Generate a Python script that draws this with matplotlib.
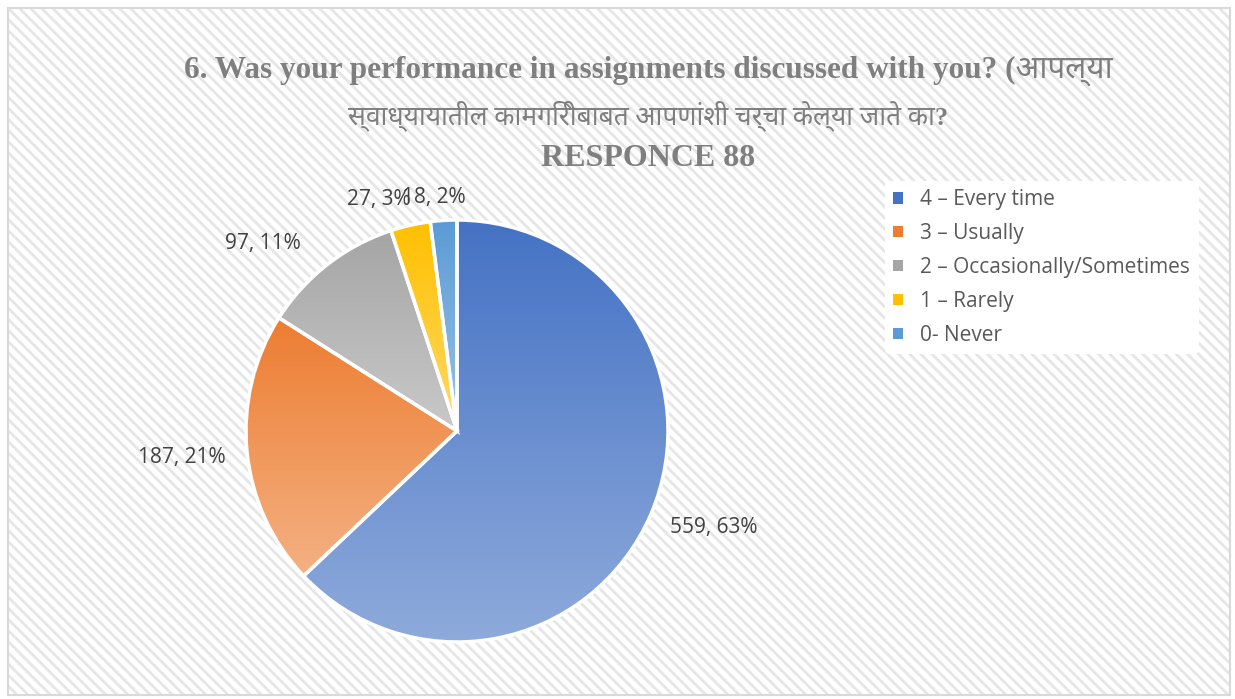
import numpy as np
import matplotlib.pyplot as plt
from matplotlib.colors import to_rgb
from matplotlib.patches import Rectangle

categories = ["4 – Every time", "3 – Usually", "2 – Occasionally/Sometimes",
              "1 – Rarely", "0- Never"]
counts = [559, 187, 97, 27, 18]
percents = [63, 21, 11, 3, 2]
colors = ["#4472C4", "#ED7D31", "#A5A5A5", "#FFC000", "#5B9BD5"]

title_en = "6. Was your performance in assignments discussed with you? (आपल्या"
title_mr = "स्वाध्यायातील कामगिरीबाबत आपणांशी चर्चा केल्या जाते का?"
title_resp = "RESPONCE 88"

# label placement: distance from centre (in radii) and nudge in pixels (right, down)
label_dist = [1.29, 1.31, 1.30, 1.16, 1.12]
label_nudge = [(7, -11), (0, 0), (-26, 29), (-24, 7), (-8, 2)]

plt.rcParams["hatch.linewidth"] = 2.0

fig = plt.figure(figsize=(12.35, 6.99), dpi=100)
fig.patch.set_facecolor("white")

# striped chart area with grey border
bg = Rectangle((8 / 1235, 4 / 699), 1222 / 1235, 687 / 699, transform=fig.transFigure,
               facecolor="white", edgecolor="#E6E6E6", hatch="\\\\\\", linewidth=0,
               zorder=-10)
fig.add_artist(bg)
border = Rectangle((8 / 1235, 4 / 699), 1222 / 1235, 687 / 699, transform=fig.transFigure,
                   facecolor="none", edgecolor="#D9D9D9", linewidth=1.5, zorder=-9)
fig.add_artist(border)

title_fonts = ["Liberation Serif", "Noto Sans", "DejaVu Sans"]
tx = 648 / 1235
fig.text(tx, 1 - 71 / 699, title_en, ha="center", va="center", fontsize=22.5,
         fontweight="bold", color="#7F7F7F", family=title_fonts)
fig.text(tx, 1 - 116 / 699, title_mr, ha="center", va="center", fontsize=19,
         fontweight="bold", color="#7F7F7F", family=title_fonts)
fig.text(tx, 1 - 158 / 699, title_resp, ha="center", va="center", fontsize=23,
         fontweight="bold", color="#7F7F7F", family=title_fonts)

R = 211
cx, cy = 457, 699 - 431
ax = fig.add_axes([(cx - R) / 1235, (cy - R) / 699, 2 * R / 1235, 2 * R / 699])
wedges, texts = ax.pie(counts, startangle=90, counterclock=False, radius=1,
                       wedgeprops=dict(edgecolor="white", linewidth=2.5))
ax.axis("off")

for w, c in zip(wedges, colors):
    base = np.array(to_rgb(c))
    light = base + (1 - base) * 0.4
    t = np.linspace(0, 1, 256)[:, None]
    grad = base[None, :] * (1 - t) + light[None, :] * t
    grad = np.repeat(grad[:, None, :], 2, axis=1)
    ext = w.get_path().get_extents(w.get_patch_transform())
    im = ax.imshow(grad, extent=[ext.x0, ext.x1, ext.y0, ext.y1], origin="upper",
                   aspect="auto", zorder=1, interpolation="bilinear")
    im.set_clip_path(w)
    w.set_facecolor("none")
    w.set_zorder(2)
ax.set_xlim(-1, 1)
ax.set_ylim(-1, 1)

for w, n, p, d, (nx, ny) in zip(wedges, counts, percents, label_dist, label_nudge):
    ang = np.deg2rad((w.theta1 + w.theta2) / 2)
    ax.annotate(f"{n}, {p}%", (d * np.cos(ang), d * np.sin(ang)),
                xytext=(nx * 0.72, -ny * 0.72), textcoords="offset points",
                ha="center", va="center", fontsize=15, color="#404040",
                family=["Open Sans", "DejaVu Sans"], annotation_clip=False)

leg = fig.legend(wedges, categories, loc="upper left",
                 bbox_to_anchor=(885 / 1235, 1 - 181 / 699), frameon=True,
                 facecolor="white", edgecolor="none", framealpha=1,
                 prop={"family": ["Open Sans", "DejaVu Sans"], "size": 15},
                 labelcolor="#595959", handlelength=0.45, handleheight=0.45,
                 handletextpad=0.85, labelspacing=0.62, borderpad=0.4,
                 borderaxespad=0)
for h, c in zip(leg.legend_handles, colors):
    h.set_facecolor(c)
    h.set_edgecolor("none")

fig.savefig("out.png", dpi=100)
